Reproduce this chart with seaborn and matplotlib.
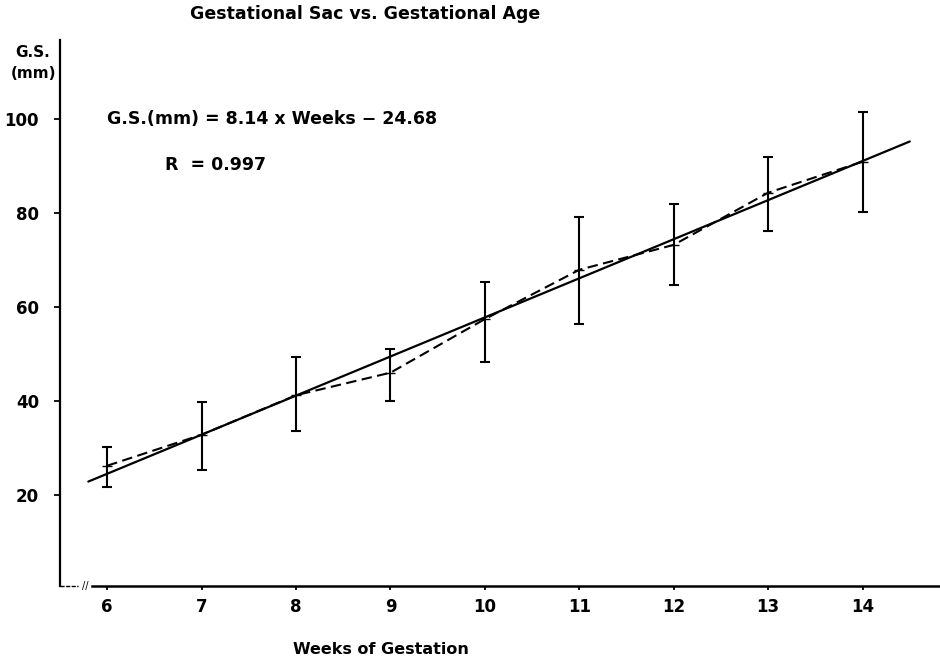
import numpy as np
import matplotlib
matplotlib.use("Agg")
import matplotlib.pyplot as plt
import seaborn as sns

# Values
weeks = [6, 7, 8, 9, 10, 11, 12, 13, 14]
gs_mean = [26.2, 32.8, 41.2, 46.0, 57.4, 67.9, 73.2, 84.3, 90.9]
gs_upper = [30.2, 39.8, 49.4, 51.1, 65.3, 79.1, 81.9, 91.9, 101.4]
gs_lower = [21.7, 25.3, 33.6, 40.0, 48.3, 56.4, 64.7, 76.2, 80.2]

y_ticks = [20, 40, 60, 80, 100]

title_text = "Gestational Sac vs. Gestational Age"
eq_text = "G.S.(mm) = 8.14 x Weeks \u2212 24.68"
r_text = "R  = 0.997"

sns.set_theme(style="white")
plt.rcParams["font.family"] = ["DejaVu Sans"]
plt.rcParams["text.color"] = "black"
plt.rcParams["xtick.color"] = "black"
plt.rcParams["ytick.color"] = "black"

fig = plt.figure(figsize=(9.4, 6.66), dpi=100)
ax = fig.add_axes([60 / 940, 80 / 666, 880 / 940, 546 / 666])

mean = np.array(gs_mean)
err = [mean - np.array(gs_lower), np.array(gs_upper) - mean]

# regression line through the means, spanning the drawn range
ax.set_xlim(5.8, 14.5)
sns.regplot(x=weeks, y=gs_mean, ci=None, scatter=False, truncate=False,
            color="black", line_kws={"lw": 1.6}, ax=ax)

# dashed line joining the weekly means
sns.lineplot(x=weeks, y=gs_mean, color="black", lw=1.5, ax=ax,
             linestyle=(0, (5, 2.6)))

ax.errorbar(weeks, gs_mean, yerr=err, fmt="_", color="black", ms=7,
            elinewidth=1.5, capsize=3.6, capthick=1.5)

ax.set_xlim(5.5, 14.82)
ax.set_ylim(0.6, 116.8)

ax.set_xticks(weeks)
ax.set_yticks(y_ticks)
ax.tick_params(axis="y", direction="out", length=4, width=1.3, pad=11,
               labelsize=12, left=True)
ax.tick_params(axis="x", direction="out", length=3, width=1.3, pad=6,
               labelsize=12, bottom=True)
for lab in ax.get_xticklabels() + ax.get_yticklabels():
    lab.set_fontweight("bold")

for side in ["top", "right"]:
    ax.spines[side].set_visible(False)
ax.spines["left"].set_linewidth(1.6)
ax.spines["bottom"].set_linewidth(1.8)
ax.spines["bottom"].set_bounds(5.84, 14.82)
ax.spines["left"].set_color("black")
ax.spines["bottom"].set_color("black")

# broken-axis stub on the far left
ax.plot([5.5, 5.69], [0.6, 0.6], color="black", lw=1.0, ls=(0, (3, 1)),
        clip_on=False)
ax.text(5.77, 0.6, "//", fontsize=7, ha="center", va="center")

ax.set_xlabel("")
ax.set_ylabel("")

ax.text(6.0, 100, eq_text, fontsize=12.5, fontweight="bold", va="center")
ax.text(6.61, 90.2, r_text, fontsize=12.5, fontweight="bold", va="center")

fig.text(365 / 940, 1 - 14 / 666, title_text, fontsize=12.5, fontweight="bold",
         ha="center", va="center")
fig.text(381 / 940, 1 - 649 / 666, "Weeks of Gestation", fontsize=11.5,
         fontweight="bold", ha="center", va="center")
fig.text(33 / 940, 1 - 63 / 666, "G.S.\n(mm)", fontsize=11, fontweight="bold",
         ha="center", va="center", linespacing=1.5)

fig.savefig("out.png", dpi=100, facecolor="white")
